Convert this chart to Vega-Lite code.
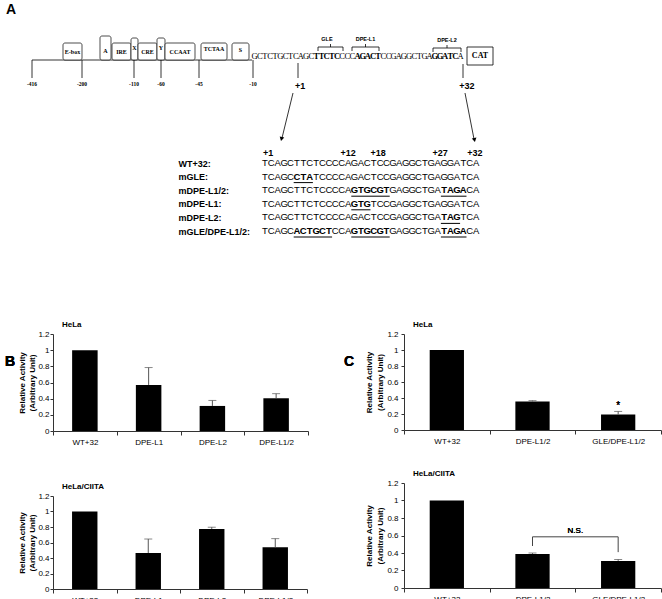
{
"$schema":"https://vega.github.io/schema/vega-lite/v6.json",
"padding":{"left":5,"top":0,"right":0,"bottom":0},
"background":"white",
"config":{
 "view":{"stroke":null},
 "font":"Liberation Sans",
 "axis":{"labelFont":"Liberation Sans","labelFontSize":8,"labelColor":"#000","domainColor":"#333","tickColor":"#333","tickSize":3,"grid":false,"titleFont":"Liberation Sans","titleFontSize":8,"titleFontWeight":"bold","titleColor":"#000"},
 "axisX":{"tickBand":"extent","labelAngle":0,"labelPadding":3,"tickSize":4},
 "title":{"font":"Liberation Sans","fontSize":8,"fontWeight":"bold","anchor":"start","frame":"group","offset":1,"color":"#000"}
},
"datasets":{
 "aLines":[
  {"x":32,"x2":252,"y":60,"y2":60},
  {"x":32,"x2":32,"y":60,"y2":78},
  {"x":82,"x2":82,"y":60,"y2":78},
  {"x":134,"x2":134,"y":60,"y2":78},
  {"x":161,"x2":161,"y":60,"y2":78},
  {"x":199,"x2":199,"y":60,"y2":78},
  {"x":253,"x2":253,"y":60,"y2":78},
  {"x":298,"x2":298,"y":63,"y2":78},
  {"x":463,"x2":463,"y":64,"y2":78},
  {"x":293,"x2":282,"y":93,"y2":138},
  {"x":465,"x2":474,"y":93,"y2":139},
  {"x":318,"x2":343,"y":47,"y2":47},
  {"x":318,"x2":318,"y":47,"y2":51},
  {"x":343,"x2":343,"y":47,"y2":51},
  {"x":330.5,"x2":330.5,"y":44,"y2":47},
  {"x":352,"x2":379,"y":47,"y2":47},
  {"x":352,"x2":352,"y":47,"y2":51},
  {"x":379,"x2":379,"y":47,"y2":51},
  {"x":365.5,"x2":365.5,"y":44,"y2":47},
  {"x":433,"x2":461,"y":48,"y2":48},
  {"x":433,"x2":433,"y":48,"y2":52},
  {"x":461,"x2":461,"y":48,"y2":52},
  {"x":447,"x2":447,"y":45,"y2":48}
 ],
 "aBoxes":[
  {"x":63,"x2":82,"y":43,"y2":60,"t":"E-box","tx":72.5,"ty":52},
  {"x":100,"x2":111,"y":36,"y2":60,"t":"A","tx":105.5,"ty":51},
  {"x":112,"x2":131,"y":43,"y2":60,"t":"IRE","tx":121.5,"ty":52},
  {"x":131,"x2":138,"y":38,"y2":60,"t":"X","tx":134.5,"ty":48},
  {"x":138,"x2":157,"y":43,"y2":60,"t":"CRE","tx":147.5,"ty":52},
  {"x":157,"x2":165,"y":38,"y2":60,"t":"Y","tx":161,"ty":48},
  {"x":165,"x2":195,"y":43,"y2":60,"t":"CCAAT","tx":180,"ty":52},
  {"x":201,"x2":227,"y":43,"y2":60,"t":"TCTAA","tx":214,"ty":49},
  {"x":232,"x2":249,"y":43,"y2":60,"t":"S","tx":240.5,"ty":50}
 ],
 "aCat":[{"x":467,"x2":493,"y":47,"y2":65,"t":"CAT","tx":480,"ty":56}],
 "aText":[
  {"x":6,"y":10,"t":"A","k":"panel"},
  {"x":32,"y":84,"t":"-416","k":"coord"},
  {"x":82,"y":84,"t":"-200","k":"coord"},
  {"x":134,"y":84,"t":"-110","k":"coord"},
  {"x":161,"y":84,"t":"-60","k":"coord"},
  {"x":199,"y":84,"t":"-45","k":"coord"},
  {"x":253,"y":84,"t":"-10","k":"coord"},
  {"x":300,"y":86,"t":"+1","k":"site"},
  {"x":467,"y":86,"t":"+32","k":"site"},
  {"x":327,"y":39,"t":"GLE","k":"motif"},
  {"x":365.5,"y":39,"t":"DPE-L1","k":"motif"},
  {"x":447,"y":40,"t":"DPE-L2","k":"motif"}
 ],
 "aHeadL":[{"x":281.5,"y":139}],
 "aHeadR":[{"x":474.5,"y":140}],
 "topSeq":[
  {"p":-6,"c":"G"},{"p":-5,"c":"C"},{"p":-4,"c":"T"},{"p":-3,"c":"C"},{"p":-2,"c":"T"},{"p":-1,"c":"G"},{"p":0,"c":"C"},
  {"p":1,"c":"T"},{"p":2,"c":"C"},{"p":3,"c":"A"},{"p":4,"c":"G"},{"p":5,"c":"C"},
  {"p":6,"c":"T","b":1},{"p":7,"c":"T","b":1},{"p":8,"c":"C","b":1},{"p":9,"c":"T","b":1},{"p":10,"c":"C","b":1},
  {"p":11,"c":"C"},{"p":12,"c":"C"},{"p":13,"c":"C"},
  {"p":14,"c":"A","b":1},{"p":15,"c":"G","b":1},{"p":16,"c":"A","b":1},{"p":17,"c":"C","b":1},{"p":18,"c":"T","b":1},
  {"p":19,"c":"C"},{"p":20,"c":"C"},{"p":21,"c":"G"},{"p":22,"c":"A"},{"p":23,"c":"G"},{"p":24,"c":"G"},{"p":25,"c":"C"},{"p":26,"c":"T"},{"p":27,"c":"G"},{"p":28,"c":"A"},
  {"p":29,"c":"G","b":1},{"p":30,"c":"G","b":1},{"p":31,"c":"A","b":1},{"p":32,"c":"T","b":1},{"p":33,"c":"C","b":1},
  {"p":34,"c":"A"}
 ],
 "aln":[
  {"s":"WT+32","p":1,"c":"T"},{"s":"WT+32","p":2,"c":"C"},{"s":"WT+32","p":3,"c":"A"},{"s":"WT+32","p":4,"c":"G"},{"s":"WT+32","p":5,"c":"C"},{"s":"WT+32","p":6,"c":"T"},{"s":"WT+32","p":7,"c":"T"},{"s":"WT+32","p":8,"c":"C"},{"s":"WT+32","p":9,"c":"T"},{"s":"WT+32","p":10,"c":"C"},{"s":"WT+32","p":11,"c":"C"},{"s":"WT+32","p":12,"c":"C"},{"s":"WT+32","p":13,"c":"C"},{"s":"WT+32","p":14,"c":"A"},{"s":"WT+32","p":15,"c":"G"},{"s":"WT+32","p":16,"c":"A"},{"s":"WT+32","p":17,"c":"C"},{"s":"WT+32","p":18,"c":"T"},{"s":"WT+32","p":19,"c":"C"},{"s":"WT+32","p":20,"c":"C"},{"s":"WT+32","p":21,"c":"G"},{"s":"WT+32","p":22,"c":"A"},{"s":"WT+32","p":23,"c":"G"},{"s":"WT+32","p":24,"c":"G"},{"s":"WT+32","p":25,"c":"C"},{"s":"WT+32","p":26,"c":"T"},{"s":"WT+32","p":27,"c":"G"},{"s":"WT+32","p":28,"c":"A"},{"s":"WT+32","p":29,"c":"G"},{"s":"WT+32","p":30,"c":"G"},{"s":"WT+32","p":31,"c":"A"},{"s":"WT+32","p":32,"c":"T"},{"s":"WT+32","p":33,"c":"C"},{"s":"WT+32","p":34,"c":"A"},
  {"s":"mGLE","p":1,"c":"T"},{"s":"mGLE","p":2,"c":"C"},{"s":"mGLE","p":3,"c":"A"},{"s":"mGLE","p":4,"c":"G"},{"s":"mGLE","p":5,"c":"C"},{"s":"mGLE","p":6,"c":"C","m":1},{"s":"mGLE","p":7,"c":"T","m":1},{"s":"mGLE","p":8,"c":"A","m":1},{"s":"mGLE","p":9,"c":"T"},{"s":"mGLE","p":10,"c":"C"},{"s":"mGLE","p":11,"c":"C"},{"s":"mGLE","p":12,"c":"C"},{"s":"mGLE","p":13,"c":"C"},{"s":"mGLE","p":14,"c":"A"},{"s":"mGLE","p":15,"c":"G"},{"s":"mGLE","p":16,"c":"A"},{"s":"mGLE","p":17,"c":"C"},{"s":"mGLE","p":18,"c":"T"},{"s":"mGLE","p":19,"c":"C"},{"s":"mGLE","p":20,"c":"C"},{"s":"mGLE","p":21,"c":"G"},{"s":"mGLE","p":22,"c":"A"},{"s":"mGLE","p":23,"c":"G"},{"s":"mGLE","p":24,"c":"G"},{"s":"mGLE","p":25,"c":"C"},{"s":"mGLE","p":26,"c":"T"},{"s":"mGLE","p":27,"c":"G"},{"s":"mGLE","p":28,"c":"A"},{"s":"mGLE","p":29,"c":"G"},{"s":"mGLE","p":30,"c":"G"},{"s":"mGLE","p":31,"c":"A"},{"s":"mGLE","p":32,"c":"T"},{"s":"mGLE","p":33,"c":"C"},{"s":"mGLE","p":34,"c":"A"},
  {"s":"mDPE-L1/2","p":1,"c":"T"},{"s":"mDPE-L1/2","p":2,"c":"C"},{"s":"mDPE-L1/2","p":3,"c":"A"},{"s":"mDPE-L1/2","p":4,"c":"G"},{"s":"mDPE-L1/2","p":5,"c":"C"},{"s":"mDPE-L1/2","p":6,"c":"T"},{"s":"mDPE-L1/2","p":7,"c":"T"},{"s":"mDPE-L1/2","p":8,"c":"C"},{"s":"mDPE-L1/2","p":9,"c":"T"},{"s":"mDPE-L1/2","p":10,"c":"C"},{"s":"mDPE-L1/2","p":11,"c":"C"},{"s":"mDPE-L1/2","p":12,"c":"C"},{"s":"mDPE-L1/2","p":13,"c":"C"},{"s":"mDPE-L1/2","p":14,"c":"A"},{"s":"mDPE-L1/2","p":15,"c":"G","m":1},{"s":"mDPE-L1/2","p":16,"c":"T","m":1},{"s":"mDPE-L1/2","p":17,"c":"G","m":1},{"s":"mDPE-L1/2","p":18,"c":"C","m":1},{"s":"mDPE-L1/2","p":19,"c":"G","m":1},{"s":"mDPE-L1/2","p":20,"c":"T","m":1},{"s":"mDPE-L1/2","p":21,"c":"G"},{"s":"mDPE-L1/2","p":22,"c":"A"},{"s":"mDPE-L1/2","p":23,"c":"G"},{"s":"mDPE-L1/2","p":24,"c":"G"},{"s":"mDPE-L1/2","p":25,"c":"C"},{"s":"mDPE-L1/2","p":26,"c":"T"},{"s":"mDPE-L1/2","p":27,"c":"G"},{"s":"mDPE-L1/2","p":28,"c":"A"},{"s":"mDPE-L1/2","p":29,"c":"T","m":1},{"s":"mDPE-L1/2","p":30,"c":"A","m":1},{"s":"mDPE-L1/2","p":31,"c":"G","m":1},{"s":"mDPE-L1/2","p":32,"c":"A","m":1},{"s":"mDPE-L1/2","p":33,"c":"C"},{"s":"mDPE-L1/2","p":34,"c":"A"},
  {"s":"mDPE-L1","p":1,"c":"T"},{"s":"mDPE-L1","p":2,"c":"C"},{"s":"mDPE-L1","p":3,"c":"A"},{"s":"mDPE-L1","p":4,"c":"G"},{"s":"mDPE-L1","p":5,"c":"C"},{"s":"mDPE-L1","p":6,"c":"T"},{"s":"mDPE-L1","p":7,"c":"T"},{"s":"mDPE-L1","p":8,"c":"C"},{"s":"mDPE-L1","p":9,"c":"T"},{"s":"mDPE-L1","p":10,"c":"C"},{"s":"mDPE-L1","p":11,"c":"C"},{"s":"mDPE-L1","p":12,"c":"C"},{"s":"mDPE-L1","p":13,"c":"C"},{"s":"mDPE-L1","p":14,"c":"A"},{"s":"mDPE-L1","p":15,"c":"G","m":1},{"s":"mDPE-L1","p":16,"c":"T","m":1},{"s":"mDPE-L1","p":17,"c":"G","m":1},{"s":"mDPE-L1","p":18,"c":"T"},{"s":"mDPE-L1","p":19,"c":"C"},{"s":"mDPE-L1","p":20,"c":"C"},{"s":"mDPE-L1","p":21,"c":"G"},{"s":"mDPE-L1","p":22,"c":"A"},{"s":"mDPE-L1","p":23,"c":"G"},{"s":"mDPE-L1","p":24,"c":"G"},{"s":"mDPE-L1","p":25,"c":"C"},{"s":"mDPE-L1","p":26,"c":"T"},{"s":"mDPE-L1","p":27,"c":"G"},{"s":"mDPE-L1","p":28,"c":"A"},{"s":"mDPE-L1","p":29,"c":"G"},{"s":"mDPE-L1","p":30,"c":"G"},{"s":"mDPE-L1","p":31,"c":"A"},{"s":"mDPE-L1","p":32,"c":"T"},{"s":"mDPE-L1","p":33,"c":"C"},{"s":"mDPE-L1","p":34,"c":"A"},
  {"s":"mDPE-L2","p":1,"c":"T"},{"s":"mDPE-L2","p":2,"c":"C"},{"s":"mDPE-L2","p":3,"c":"A"},{"s":"mDPE-L2","p":4,"c":"G"},{"s":"mDPE-L2","p":5,"c":"C"},{"s":"mDPE-L2","p":6,"c":"T"},{"s":"mDPE-L2","p":7,"c":"T"},{"s":"mDPE-L2","p":8,"c":"C"},{"s":"mDPE-L2","p":9,"c":"T"},{"s":"mDPE-L2","p":10,"c":"C"},{"s":"mDPE-L2","p":11,"c":"C"},{"s":"mDPE-L2","p":12,"c":"C"},{"s":"mDPE-L2","p":13,"c":"C"},{"s":"mDPE-L2","p":14,"c":"A"},{"s":"mDPE-L2","p":15,"c":"G"},{"s":"mDPE-L2","p":16,"c":"A"},{"s":"mDPE-L2","p":17,"c":"C"},{"s":"mDPE-L2","p":18,"c":"T"},{"s":"mDPE-L2","p":19,"c":"C"},{"s":"mDPE-L2","p":20,"c":"C"},{"s":"mDPE-L2","p":21,"c":"G"},{"s":"mDPE-L2","p":22,"c":"A"},{"s":"mDPE-L2","p":23,"c":"G"},{"s":"mDPE-L2","p":24,"c":"G"},{"s":"mDPE-L2","p":25,"c":"C"},{"s":"mDPE-L2","p":26,"c":"T"},{"s":"mDPE-L2","p":27,"c":"G"},{"s":"mDPE-L2","p":28,"c":"A"},{"s":"mDPE-L2","p":29,"c":"T","m":1},{"s":"mDPE-L2","p":30,"c":"A","m":1},{"s":"mDPE-L2","p":31,"c":"G","m":1},{"s":"mDPE-L2","p":32,"c":"T"},{"s":"mDPE-L2","p":33,"c":"C"},{"s":"mDPE-L2","p":34,"c":"A"},
  {"s":"mGLE/DPE-L1/2","p":1,"c":"T"},{"s":"mGLE/DPE-L1/2","p":2,"c":"C"},{"s":"mGLE/DPE-L1/2","p":3,"c":"A"},{"s":"mGLE/DPE-L1/2","p":4,"c":"G"},{"s":"mGLE/DPE-L1/2","p":5,"c":"C"},{"s":"mGLE/DPE-L1/2","p":6,"c":"A","m":1},{"s":"mGLE/DPE-L1/2","p":7,"c":"C","m":1},{"s":"mGLE/DPE-L1/2","p":8,"c":"T","m":1},{"s":"mGLE/DPE-L1/2","p":9,"c":"G","m":1},{"s":"mGLE/DPE-L1/2","p":10,"c":"C","m":1},{"s":"mGLE/DPE-L1/2","p":11,"c":"T","m":1},{"s":"mGLE/DPE-L1/2","p":12,"c":"C"},{"s":"mGLE/DPE-L1/2","p":13,"c":"C"},{"s":"mGLE/DPE-L1/2","p":14,"c":"A"},{"s":"mGLE/DPE-L1/2","p":15,"c":"G","m":1},{"s":"mGLE/DPE-L1/2","p":16,"c":"T","m":1},{"s":"mGLE/DPE-L1/2","p":17,"c":"G","m":1},{"s":"mGLE/DPE-L1/2","p":18,"c":"C","m":1},{"s":"mGLE/DPE-L1/2","p":19,"c":"G","m":1},{"s":"mGLE/DPE-L1/2","p":20,"c":"T","m":1},{"s":"mGLE/DPE-L1/2","p":21,"c":"G"},{"s":"mGLE/DPE-L1/2","p":22,"c":"A"},{"s":"mGLE/DPE-L1/2","p":23,"c":"G"},{"s":"mGLE/DPE-L1/2","p":24,"c":"G"},{"s":"mGLE/DPE-L1/2","p":25,"c":"C"},{"s":"mGLE/DPE-L1/2","p":26,"c":"T"},{"s":"mGLE/DPE-L1/2","p":27,"c":"G"},{"s":"mGLE/DPE-L1/2","p":28,"c":"A"},{"s":"mGLE/DPE-L1/2","p":29,"c":"T","m":1},{"s":"mGLE/DPE-L1/2","p":30,"c":"A","m":1},{"s":"mGLE/DPE-L1/2","p":31,"c":"G","m":1},{"s":"mGLE/DPE-L1/2","p":32,"c":"A","m":1},{"s":"mGLE/DPE-L1/2","p":33,"c":"C"},{"s":"mGLE/DPE-L1/2","p":34,"c":"A"}
 ],
 "alnMut":[
  {"s":"mGLE","from":6,"to":8},
  {"s":"mDPE-L1/2","from":15,"to":20},{"s":"mDPE-L1/2","from":29,"to":32},
  {"s":"mDPE-L1","from":15,"to":17},
  {"s":"mDPE-L2","from":29,"to":31},
  {"s":"mGLE/DPE-L1/2","from":6,"to":11},{"s":"mGLE/DPE-L1/2","from":15,"to":20},{"s":"mGLE/DPE-L1/2","from":29,"to":32}
 ],
 "alnNums":[
  {"p":1.5,"t":"+1"},{"p":14,"t":"+12"},{"p":18.7,"t":"+18"},{"p":28.4,"t":"+27"},{"p":33.8,"t":"+32"}
 ],
 "b1":[
  {"construct":"WT+32","activity":1},
  {"construct":"DPE-L1","activity":0.57,"upper":0.785},
  {"construct":"DPE-L2","activity":0.31,"upper":0.378},
  {"construct":"DPE-L1/2","activity":0.405,"upper":0.462}
 ],
 "b2":[
  {"construct":"WT+32","activity":1},
  {"construct":"DPE-L1","activity":0.465,"upper":0.645},
  {"construct":"DPE-L2","activity":0.775,"upper":0.797},
  {"construct":"DPE-L1/2","activity":0.538,"upper":0.65}
 ],
 "c1":[
  {"construct":"WT+32","activity":1},
  {"construct":"DPE-L1/2","activity":0.357,"upper":0.367},
  {"construct":"GLE/DPE-L1/2","activity":0.193,"upper":0.232}
 ],
 "c2":[
  {"construct":"WT+32","activity":1},
  {"construct":"DPE-L1/2","activity":0.39,"upper":0.4},
  {"construct":"GLE/DPE-L1/2","activity":0.31,"upper":0.326}
 ],
 "brk":[
  {"a":"DPE-L1/2","b":"GLE/DPE-L1/2","y":0.585,"y2":0.585},
  {"a":"DPE-L1/2","b":"DPE-L1/2","y":0.585,"y2":0.48},
  {"a":"GLE/DPE-L1/2","b":"GLE/DPE-L1/2","y":0.585,"y2":0.41}
 ]
},
"vconcat":[
 {
  "width":609,"height":245,
  "resolve":{"scale":{"x":"independent","y":"independent"},"axis":{"y":"independent"}},
  "layer":[
   {
    "encoding":{
     "x":{"field":"x","type":"quantitative","scale":{"domain":[53,662]},"axis":null},
     "y":{"field":"y","type":"quantitative","scale":{"domain":[0,245],"reverse":true},"axis":null}
    },
    "layer":[
     {"data":{"name":"aLines"},"mark":{"type":"rule","color":"#000","strokeWidth":0.8},"encoding":{"x2":{"field":"x2"},"y2":{"field":"y2"}}},
     {"data":{"name":"aBoxes"},"mark":{"type":"rect","fill":"white","stroke":"#000","strokeWidth":0.7,"cornerRadius":2},"encoding":{"x2":{"field":"x2"},"y2":{"field":"y2"}}},
     {"data":{"name":"aBoxes"},"mark":{"type":"text","font":"Liberation Serif","fontSize":6,"fontWeight":"bold","baseline":"middle"},"encoding":{"x":{"field":"tx","type":"quantitative"},"y":{"field":"ty","type":"quantitative"},"text":{"field":"t"}}},
     {"data":{"name":"aCat"},"mark":{"type":"rect","fill":"white","stroke":"#000","strokeWidth":0.8},"encoding":{"x2":{"field":"x2"},"y2":{"field":"y2"}}},
     {"data":{"name":"aCat"},"mark":{"type":"text","font":"Liberation Serif","fontSize":8,"fontWeight":"bold","baseline":"middle"},"encoding":{"x":{"field":"tx","type":"quantitative"},"y":{"field":"ty","type":"quantitative"},"text":{"field":"t"}}},
     {"data":{"name":"aText"},"transform":[{"filter":"datum.k == 'panel'"}],"mark":{"type":"text","fontSize":14,"fontWeight":"bold","align":"left","baseline":"middle"},"encoding":{"text":{"field":"t"}}},
     {"data":{"name":"aText"},"transform":[{"filter":"datum.k == 'coord'"}],"mark":{"type":"text","font":"Liberation Serif","fontSize":5.5,"fontWeight":"bold","baseline":"middle","color":"#000"},"encoding":{"text":{"field":"t"}}},
     {"data":{"name":"aText"},"transform":[{"filter":"datum.k == 'site'"}],"mark":{"type":"text","fontSize":9,"fontWeight":"bold","baseline":"middle"},"encoding":{"text":{"field":"t"}}},
     {"data":{"name":"aText"},"transform":[{"filter":"datum.k == 'motif'"}],"mark":{"type":"text","fontSize":5.5,"fontWeight":"bold","baseline":"middle"},"encoding":{"text":{"field":"t"}}},
     {"data":{"name":"aHeadL"},"mark":{"type":"point","shape":"triangle-down","filled":true,"color":"#000","size":22,"angle":14,"opacity":1}},
     {"data":{"name":"aHeadR"},"mark":{"type":"point","shape":"triangle-down","filled":true,"color":"#000","size":22,"angle":-11,"opacity":1}}
    ]
   },
   {
    "data":{"name":"topSeq"},
    "encoding":{
     "x":{"field":"p","type":"quantitative","scale":{"domain":[-45.14,73.11]},"axis":null},
     "y":{"datum":56,"type":"quantitative","scale":{"domain":[0,245],"reverse":true},"axis":null},
     "text":{"field":"c"}
    },
    "layer":[
     {"transform":[{"filter":"!datum.b"}],"mark":{"type":"text","font":"Liberation Serif","fontSize":8.5,"baseline":"middle"}},
     {"transform":[{"filter":"datum.b"}],"mark":{"type":"text","font":"Liberation Serif","fontSize":8.5,"fontWeight":"bold","baseline":"middle"}}
    ]
   },
   {
    "encoding":{
     "x":{"field":"p","type":"quantitative","scale":{"domain":[-32.11,63.05]},"axis":null},
     "y":{"field":"s","type":"nominal","scale":{"type":"point","domain":["WT+32","mGLE","mDPE-L1/2","mDPE-L1","mDPE-L2","mGLE/DPE-L1/2"],"range":[163,231],"padding":0},
          "axis":{"orient":"left","title":null,"domain":false,"ticks":false,"tickSize":0,"labelPadding":0,"offset":-125,"labelAlign":"left","labelFontSize":9,"labelFontWeight":"bold","labelExpr":"datum.value + ':'","labelOverlap":false}}
    },
    "layer":[
     {"data":{"name":"aln"},"transform":[{"filter":"!datum.m"}],"mark":{"type":"text","fontSize":9.5,"baseline":"middle"},"encoding":{"text":{"field":"c"}}},
     {"data":{"name":"aln"},"transform":[{"filter":"datum.m"}],"mark":{"type":"text","fontSize":9.5,"fontWeight":"bold","baseline":"middle"},"encoding":{"text":{"field":"c"}}},
     {"data":{"name":"alnMut"},"mark":{"type":"rule","color":"#000","strokeWidth":1,"yOffset":6,"xOffset":-3.2,"x2Offset":3.2},"encoding":{"x":{"field":"from","type":"quantitative"},"x2":{"field":"to"}}},
     {"data":{"name":"alnNums"},"mark":{"type":"text","fontSize":9,"fontWeight":"bold","baseline":"middle","dy":-10},"encoding":{"y":{"datum":"WT+32","type":"nominal"},"text":{"field":"t"}}}
    ]
   }
  ]
 },
 {
  "spacing":35,
  "hconcat":[
   {
    "spacing":37,
    "vconcat":[
     {
      "width":255,"height":97,
      "title":{"text":"HeLa","dx":9},
      "data":{"name":"b1"},
      "encoding":{"x":{"field":"construct","type":"nominal","scale":{"domain":["WT+32","DPE-L1","DPE-L2","DPE-L1/2"],"paddingInner":0,"paddingOuter":0},"axis":{"title":null}}},
      "layer":[
       {"mark":{"type":"bar","color":"#000","width":{"band":0.4}},"encoding":{"y":{"field":"activity","type":"quantitative","scale":{"domain":[0,1.2],"nice":false},"axis":{"title":["Relative Activity","(Arbitrary Unit)"],"tickCount":6,"format":".1~f","labelOverlap":false,"labelPadding":1,"titlePadding":1,"titleLineHeight":10}}}},
       {"transform":[{"filter":"isValid(datum.upper)"}],"mark":{"type":"rule","color":"#555"},"encoding":{"y":{"field":"activity","type":"quantitative"},"y2":{"field":"upper"}}},
       {"transform":[{"filter":"isValid(datum.upper)"}],"mark":{"type":"tick","color":"#555","size":8,"thickness":1},"encoding":{"y":{"field":"upper","type":"quantitative"}}},
       {"mark":{"type":"text","fontSize":14,"fontWeight":"bold","align":"left","baseline":"middle","dx":-48,"text":"B"},"encoding":{"x":{"datum":"WT+32","type":"nominal","bandPosition":0},"y":{"datum":0.85,"type":"quantitative"}}}
      ]
     },
     {
      "width":254,"height":93,
      "title":{"text":"HeLa/CIITA","dx":9},
      "data":{"name":"b2"},
      "encoding":{"x":{"field":"construct","type":"nominal","scale":{"domain":["WT+32","DPE-L1","DPE-L2","DPE-L1/2"],"paddingInner":0,"paddingOuter":0},"axis":{"title":null}}},
      "layer":[
       {"mark":{"type":"bar","color":"#000","width":{"band":0.4}},"encoding":{"y":{"field":"activity","type":"quantitative","scale":{"domain":[0,1.2],"nice":false},"axis":{"title":["Relative Activity","(Arbitrary Unit)"],"tickCount":6,"format":".1~f","labelOverlap":false,"labelPadding":1,"titlePadding":1,"titleLineHeight":10}}}},
       {"transform":[{"filter":"isValid(datum.upper)"}],"mark":{"type":"rule","color":"#555"},"encoding":{"y":{"field":"activity","type":"quantitative"},"y2":{"field":"upper"}}},
       {"transform":[{"filter":"isValid(datum.upper)"}],"mark":{"type":"tick","color":"#555","size":8,"thickness":1},"encoding":{"y":{"field":"upper","type":"quantitative"}}}
      ]
     }
    ]
   },
   {
    "spacing":25,
    "vconcat":[
     {
      "width":257,"height":96,
      "title":{"text":"HeLa","dx":9},
      "data":{"name":"c1"},
      "encoding":{"x":{"field":"construct","type":"nominal","scale":{"domain":["WT+32","DPE-L1/2","GLE/DPE-L1/2"],"paddingInner":0,"paddingOuter":0},"axis":{"title":null}}},
      "layer":[
       {"mark":{"type":"bar","color":"#000","width":{"band":0.4}},"encoding":{"y":{"field":"activity","type":"quantitative","scale":{"domain":[0,1.2],"nice":false},"axis":{"title":["Relative Activity","(Arbitrary Unit)"],"tickCount":6,"format":".1~f","labelOverlap":false,"labelPadding":3,"titlePadding":2,"titleLineHeight":11}}}},
       {"transform":[{"filter":"isValid(datum.upper)"}],"mark":{"type":"rule","color":"#555"},"encoding":{"y":{"field":"activity","type":"quantitative"},"y2":{"field":"upper"}}},
       {"transform":[{"filter":"isValid(datum.upper)"}],"mark":{"type":"tick","color":"#555","size":8,"thickness":1},"encoding":{"y":{"field":"upper","type":"quantitative"}}},
       {"mark":{"type":"text","fontSize":10,"baseline":"middle","text":"*"},"encoding":{"x":{"datum":"GLE/DPE-L1/2","type":"nominal"},"y":{"datum":0.3,"type":"quantitative"}}},
       {"mark":{"type":"text","fontSize":14,"fontWeight":"bold","align":"left","baseline":"middle","dx":-60,"text":"C"},"encoding":{"x":{"datum":"WT+32","type":"nominal","bandPosition":0},"y":{"datum":0.85,"type":"quantitative"}}}
      ]
     },
     {
      "width":257,"height":105,
      "title":{"text":"HeLa/CIITA","dx":9},
      "data":{"name":"c2"},
      "encoding":{"x":{"field":"construct","type":"nominal","scale":{"domain":["WT+32","DPE-L1/2","GLE/DPE-L1/2"],"paddingInner":0,"paddingOuter":0},"axis":{"title":null}}},
      "layer":[
       {"mark":{"type":"bar","color":"#000","width":{"band":0.4}},"encoding":{"y":{"field":"activity","type":"quantitative","scale":{"domain":[0,1.2],"nice":false},"axis":{"title":["Relative Activity","(Arbitrary Unit)"],"tickCount":6,"format":".1~f","labelOverlap":false,"labelPadding":3,"titlePadding":2,"titleLineHeight":11}}}},
       {"transform":[{"filter":"isValid(datum.upper)"}],"mark":{"type":"rule","color":"#555"},"encoding":{"y":{"field":"activity","type":"quantitative"},"y2":{"field":"upper"}}},
       {"transform":[{"filter":"isValid(datum.upper)"}],"mark":{"type":"tick","color":"#555","size":8,"thickness":1},"encoding":{"y":{"field":"upper","type":"quantitative"}}},
       {"data":{"name":"brk"},"mark":{"type":"rule","color":"#444"},"encoding":{"x":{"field":"a","type":"nominal"},"x2":{"field":"b"},"y":{"field":"y","type":"quantitative"},"y2":{"field":"y2"}}},
       {"mark":{"type":"text","fontSize":8,"baseline":"middle","text":"N.S."},"encoding":{"x":{"datum":"GLE/DPE-L1/2","type":"nominal","bandPosition":0},"y":{"datum":0.65,"type":"quantitative"}}}
      ]
     }
    ]
   }
  ]
 }
],
"spacing":76
}
